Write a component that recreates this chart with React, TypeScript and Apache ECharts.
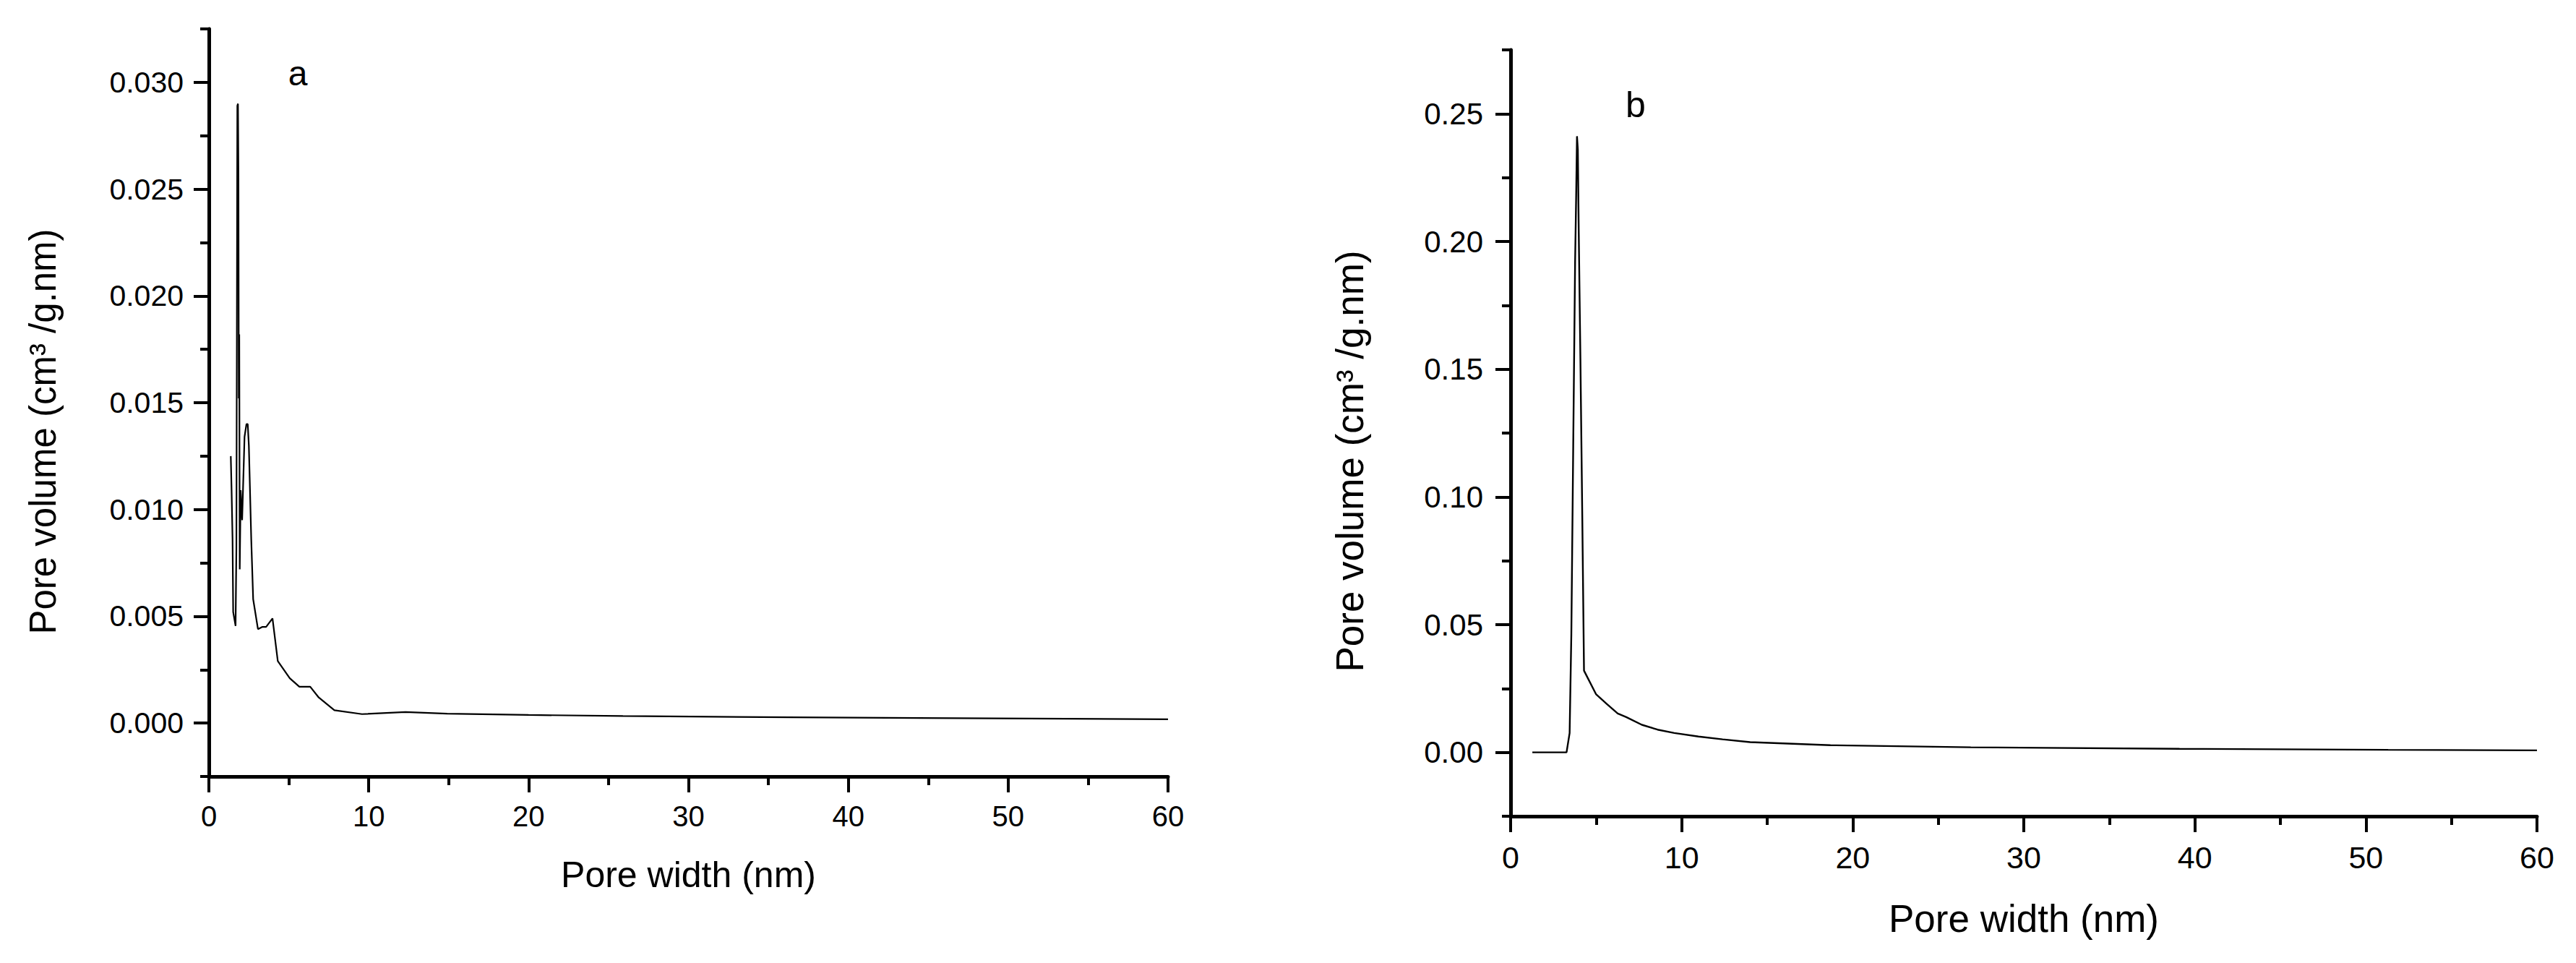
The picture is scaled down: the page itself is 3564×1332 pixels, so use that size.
import React, { useEffect, useRef } from "react";
import * as echarts from "echarts";

// Panel a: pore size distribution
const poreWidthA = [
  1.37, 1.42, 1.48, 1.52, 1.67, 1.72, 1.75, 1.78, 1.82, 1.85, 1.87, 1.9, 1.93, 1.99,
  2.08, 2.23, 2.35, 2.43, 2.5, 2.65, 2.77, 3.07, 3.33, 3.58, 3.98, 4.31, 5.06, 5.66,
  6.34, 6.87, 7.85, 9.58, 12.3, 14.9, 20, 25.9, 36.3, 46.7, 60,
];
const poreVolumeA = [
  0.0125, 0.0109, 0.0086, 0.0052, 0.00455, 0.0082, 0.018, 0.0289, 0.029, 0.0255, 0.0152,
  0.0182, 0.0072, 0.0109, 0.0095, 0.0134, 0.014, 0.014, 0.013, 0.0086, 0.0058, 0.0044,
  0.0045, 0.0045, 0.0049, 0.0029, 0.0021, 0.0017, 0.0017, 0.0012, 0.0006, 0.00042,
  0.00052, 0.00044, 0.00038, 0.00033, 0.00027, 0.00023, 0.00018,
];

// Panel b
const poreWidthB = [
  1.27, 3.27, 3.45, 3.55, 3.66, 3.77, 3.83, 3.88, 3.93, 3.98, 4.08, 4.19, 4.29, 5.0,
  5.63, 6.26, 6.76, 7.67, 8.59, 9.57, 10.98, 12.39, 14.0, 18.7, 26.9, 39.1, 51.3, 60,
];
const poreVolumeB = [
  0, 0, 0.0076, 0.0464, 0.12, 0.192, 0.217, 0.2412, 0.236, 0.205, 0.154, 0.092, 0.032,
  0.0227, 0.0189, 0.0152, 0.0138, 0.0108, 0.0089, 0.0076, 0.0062, 0.0051, 0.004, 0.0028,
  0.002, 0.0014, 0.001, 0.0008,
];

// Tick values
const yMajorA = [0, 0.005, 0.01, 0.015, 0.02, 0.025, 0.03];
const yMinorA = [-0.0025, 0.0025, 0.0075, 0.0125, 0.0175, 0.0225, 0.0275, 0.0325];
const yMajorB = [0, 0.05, 0.1, 0.15, 0.2, 0.25];
const yMinorB = [-0.025, 0.025, 0.075, 0.125, 0.175, 0.225, 0.275];

const xTitle = "Pore width (nm)";
const yTitle = "Pore volume (cm³ /g.nm)";
const panelLabels = ["a", "b"];

const FONT = "'Liberation Sans', Arial, Helvetica, sans-serif";
const BLACK = "#000";

function zip(xs: number[], ys: number[]) {
  return xs.map((x, i) => [x, ys[i]]);
}

function xAxisCfg(gridIndex: number, fontSize: number, nameSize: number, nameGap: number) {
  return {
    gridIndex,
    type: "value",
    min: 0,
    max: 60,
    interval: 10,
    name: xTitle,
    nameLocation: "middle",
    nameGap,
    nameTextStyle: { fontFamily: FONT, fontSize: nameSize, color: BLACK },
    axisLine: { onZero: false, lineStyle: { color: BLACK, width: 5 } },
    axisTick: { show: true, length: 22, lineStyle: { color: BLACK, width: 4 } },
    minorTick: { show: true, splitNumber: 2, length: 12, lineStyle: { color: BLACK, width: 4 } },
    axisLabel: { margin: 35, fontFamily: FONT, fontSize, color: BLACK },
    splitLine: { show: false },
    minorSplitLine: { show: false },
  };
}

function yMainCfg(
  gridIndex: number,
  min: number,
  max: number,
  interval: number,
  majors: number[],
  decimals: number,
  fontSize: number,
  margin: number,
  nameSize: number,
  nameGap: number,
  nameShift: number
) {
  return {
    gridIndex,
    type: "value",
    position: "left",
    offset: 0,
    min,
    max,
    interval,
    name: yTitle,
    nameLocation: "middle",
    nameGap,
    nameTextStyle: {
      fontFamily: FONT,
      fontSize: nameSize,
      color: BLACK,
      padding: [0, nameShift * 2, 0, 0],
    },
    axisLine: { show: true, onZero: false, lineStyle: { color: BLACK, width: 5 } },
    axisTick: { show: true, customValues: majors, length: 21, lineStyle: { color: BLACK, width: 4 } },
    axisLabel: {
      customValues: majors,
      margin,
      fontFamily: FONT,
      fontSize,
      color: BLACK,
      formatter: (v: number) => v.toFixed(decimals),
    },
    splitLine: { show: false },
  };
}

function yMinorCfg(gridIndex: number, min: number, max: number, interval: number, minors: number[]) {
  return {
    gridIndex,
    type: "value",
    position: "left",
    offset: 0,
    min,
    max,
    interval,
    axisLine: { show: false },
    axisTick: { show: true, customValues: minors, length: 12, lineStyle: { color: BLACK, width: 4 } },
    axisLabel: { show: false },
    splitLine: { show: false },
  };
}

export default function App() {
  const ref = useRef<HTMLDivElement>(null);
  useEffect(() => {
    if (!ref.current) return;
    const chart = echarts.init(ref.current, undefined, { renderer: "svg" });
    const option = {
      animation: false,
      backgroundColor: "#fff",
      grid: [
        { left: 289, top: 40, width: 1327, height: 1034 },
        { left: 2090, top: 69, width: 1420, height: 1060 },
      ],
      xAxis: [xAxisCfg(0, 40, 50, 111), xAxisCfg(1, 43, 53, 115)],
      yAxis: [
        yMainCfg(0, -0.0025, 0.0325, 0.0025, yMajorA, 3, 41, 35, 51, 204, 40),
        yMinorCfg(0, -0.0025, 0.0325, 0.0025, yMinorA),
        yMainCfg(1, -0.025, 0.275, 0.025, yMajorB, 2, 42, 38, 53, 196, 39),
        yMinorCfg(1, -0.025, 0.275, 0.025, yMinorB),
      ],
      series: [
        {
          type: "line",
          xAxisIndex: 0,
          yAxisIndex: 0,
          data: zip(poreWidthA, poreVolumeA),
          showSymbol: false,
          symbol: "none",
          lineStyle: { color: BLACK, width: 2.2 },
        },
        {
          type: "line",
          xAxisIndex: 1,
          yAxisIndex: 2,
          data: zip(poreWidthB, poreVolumeB),
          showSymbol: false,
          symbol: "none",
          lineStyle: { color: BLACK, width: 2.4 },
        },
      ],
      graphic: [
        {
          type: "text",
          x: 412,
          y: 101,
          style: {
            text: panelLabels[0],
            fill: BLACK,
            fontFamily: FONT,
            fontSize: 48,
            align: "center",
            verticalAlign: "middle",
          },
        },
        {
          type: "text",
          x: 2263,
          y: 145,
          style: {
            text: panelLabels[1],
            fill: BLACK,
            fontFamily: FONT,
            fontSize: 50,
            align: "center",
            verticalAlign: "middle",
          },
        },
      ],
    };
    chart.setOption(option as any);
    return () => chart.dispose();
  }, []);
  return (
    <div
      ref={ref}
      style={{ position: "absolute", left: 0, top: 0, width: 3564, height: 1332, background: "#fff" }}
    />
  );
}
